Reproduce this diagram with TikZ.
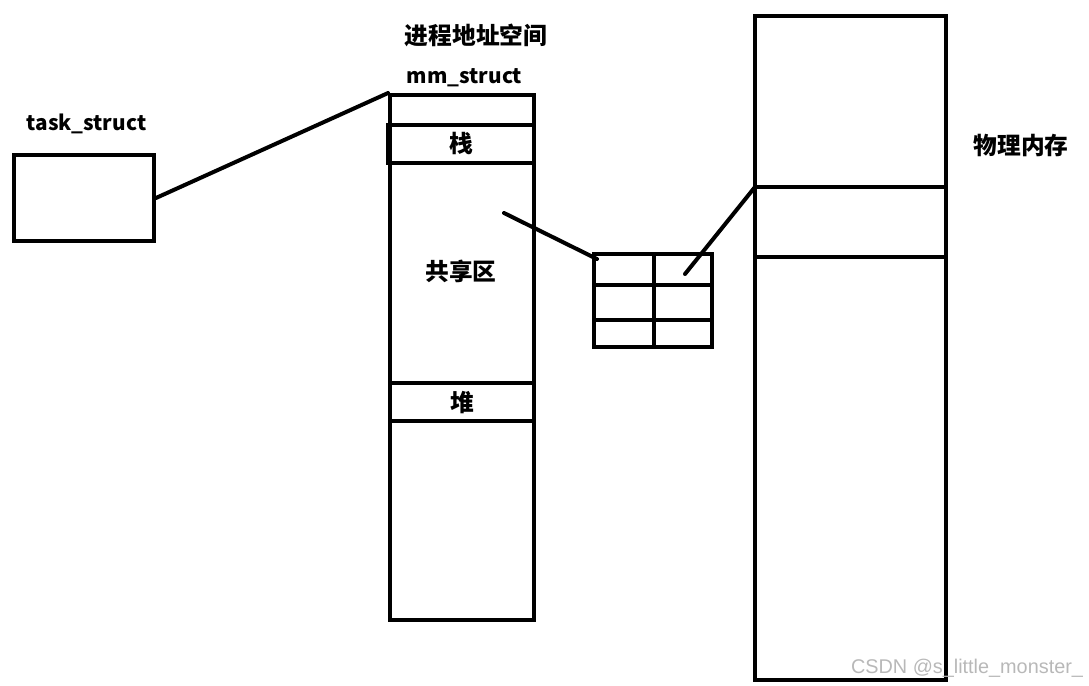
\documentclass[tikz,border=0pt]{standalone}
\usepackage{fontspec}
\setmainfont{Noto Sans CJK SC}
\newfontfamily\markfont{Liberation Sans}
\usepackage{tikz}
\usetikzlibrary{calc}

\tikzset{
	blk/.style={draw, line width=0.08cm, inner sep=0pt},
	lbl/.style={font=\bfseries\fontsize{13.5}{16}\selectfont, inner sep=0pt},
	latin/.style={font=\bfseries\fontsize{11.8}{14}\selectfont, inner sep=0pt},
	wire/.style={line width=0.08cm, line cap=round}
}

\begin{document}
\begin{tikzpicture}[x=0.02cm, y=-0.02cm]
		%%%%% START %%%%%
		\useasboundingbox (0, 0) rectangle (1089, 686);
		
		\node[blk, minimum width=2.8cm, minimum height=1.72cm] (task) at (84, 198) {};
		\node[latin] (tasklbl) at (86.5, 124) {task\_struct};
		
		\node[lbl] (space) at (476, 35) {进程地址空间};
		\node[latin] (mmlbl) at (464.5, 78) {mm\_struct};
		\node[blk, minimum width=2.88cm, minimum height=10.5cm] (mm) at (462, 357.5) {};
		\node[blk, lbl, minimum width=2.92cm, minimum height=0.77cm] (stack) at (461, 143.75) {栈};
		\node[lbl] (shared) at (461, 271) {共享区};
		\node[blk, lbl, minimum width=2.88cm, minimum height=0.77cm] (heap) at (462, 402.25) {堆};
		
		\draw[wire] (task.east) -- (mm.north west);
		
		% page table
		\node[blk, minimum width=2.36cm, minimum height=1.87cm] (pt) at (653, 300.25) {};
		\draw[line width=0.08cm] (654, 253.5) -- (654, 347);
		\draw[line width=0.08cm] (594, 284.5) -- (712, 284.5);
		\draw[line width=0.08cm] (594, 320) -- (712, 320);
		
		% physical memory
		\node[blk, minimum width=3.82cm, minimum height=13.28cm] (phys) at (850.5, 348) {};
		\node[lbl] (physlbl) at (1021, 145) {物理内存};
		\coordinate (page) at (755, 187);
		\draw[line width=0.08cm] (page) -- (page -| phys.east);
		\draw[line width=0.08cm] (755, 257) -- (946, 257);
		
		\coordinate (sharedpt) at (504, 213);
		\coordinate (ptin) at (597, 259);
		\coordinate (cell) at (685, 274);
		\draw[wire] (sharedpt) -- (ptin);
		\draw[wire] (cell) -- (page);
		
		\node[font=\markfont\fontsize{11.3}{13}\selectfont, text=black!28, inner sep=0pt] (mark) at (967, 668) {CSDN @s\_little\_monster\_};
		
		%%%%% END %%%%%
	\end{tikzpicture}
\end{document}
